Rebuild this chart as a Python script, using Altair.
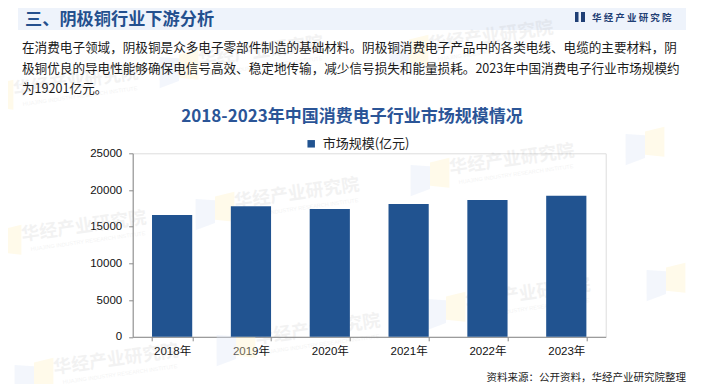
import altair as alt
import pandas as pd

# ---------------- data ----------------
years = ["2018年", "2019年", "2020年", "2021年", "2022年", "2023年"]
market = [16590, 17800, 17400, 18100, 18640, 19201]
series_name = "市场规模(亿元)"
y_ticks = [0, 5000, 10000, 15000, 20000, 25000]

header_title = "三、阴极铜行业下游分析"
logo_text = "华 经 产 业 研 究 院"
body_lines = [
    "在消费电子领域，阴极铜是众多电子零部件制造的基础材料。阴极铜消费电子产品中的各类电线、电缆的主要材料，阴",
    "极铜优良的导电性能够确保电信号高效、稳定地传输，减少信号损失和能量损耗。2023年中国消费电子行业市场规模约",
    "为19201亿元。",
]
chart_title = "2018-2023年中国消费电子行业市场规模情况"
source_text = "资料来源：公开资料，华经产业研究院整理"
wm_cn = "华经产业研究院"
wm_en = "HUAJING INDUSTRY RESEARCH INSTITUTE"

df = pd.DataFrame({"year": years, "value": market, "series": [series_name] * len(years)})
one = pd.DataFrame({"a": [0]})

# ---------------- layout / style ----------------
OX, OY = 132.7, 153.3      # page position of plot origin
W, H = 473, 183.5
SVG_W, SVG_H = 689, 376
BLUE = "#215390"
TITLE_BLUE = "#2B5597"
HEAD_BLUE = "#24508E"
GRAY = "#8a8a8a"
CJK = "Noto Sans CJK SC"
LAT = "Liberation Sans, Noto Sans CJK SC"


def px(x):
    return x - OX


def py(y):
    return y - OY


def label(text, x, y, size, color, weight="normal", align="left", font=CJK, angle=0, opacity=1.0):
    kw = dict(text=text, align=align, baseline="middle", fontSize=size,
              fontWeight=weight, color=color, font=font, opacity=opacity)
    if angle:
        kw["angle"] = angle
    return alt.Chart(one).mark_text(**kw).encode(x=alt.value(px(x)), y=alt.value(py(y)))


def box(x1, y1, x2, y2, color):
    return alt.Chart(one).mark_rect(color=color).encode(
        x=alt.value(px(x1)), x2=alt.value(px(x2)), y=alt.value(py(y1)), y2=alt.value(py(y2)))


layers = []

# header band
layers.append(box(18, 5, 686, 30, "#EEF3FB"))

# watermarks (faint decoration)
FLAG_L = "M-1,-0.62 L0,-0.55 L0,0.62 L-1,1 Z"
FLAG_R = "M0,-0.75 L1,-1 L1,0.55 L0,0.45 Z"
wm_text_centers = [(491, 37), (261, 52), (76, 82), (512, 160), (297, 194), (84, 227),
                   (318, 330), (528, 294), (116, 360)]
flag_only = [(645, 146), (666, 282)]
for cx, cy in wm_text_centers:
    flag_only.append((cx - 82, cy + 17))
for fx, fy in flag_only:
    layers.append(alt.Chart(one).mark_point(shape=FLAG_L, size=1500, filled=True, color="#DCE6F5",
                                            opacity=0.35, strokeWidth=0)
                  .encode(x=alt.value(px(fx)), y=alt.value(py(fy))))
    layers.append(alt.Chart(one).mark_point(shape=FLAG_R, size=1500, filled=True, color="#FFF1C2",
                                            opacity=0.35, strokeWidth=0)
                  .encode(x=alt.value(px(fx)), y=alt.value(py(fy))))
for cx, cy in wm_text_centers:
    layers.append(label(wm_cn, cx, cy, 18, "#9a9a9a", weight="bold", align="center",
                        angle=352, opacity=0.12))
    layers.append(label(wm_en, cx + 4, cy + 14, 5.5, "#9a9a9a", align="center",
                        font=LAT, angle=352, opacity=0.12))

# header texts
layers.append(label(header_title, 25, 19.5, 17.2, HEAD_BLUE, weight="bold"))
layers.append(box(575, 12, 578.5, 22, "#1F3F75"))
layers.append(box(581, 12, 585, 22, "#1F3F75"))
layers.append(label(logo_text, 592, 17.5, 9.5, "#1F3F75", weight="bold"))

# body paragraph
for i, line in enumerate(body_lines):
    layers.append(label(line, 22, 48 + i * 20.5, 12.6, "#1a1a1a"))

# chart title
layers.append(label(chart_title, 352, 117, 17, TITLE_BLUE, weight="bold", align="center"))

# source
layers.append(label(source_text, 686, 377.5, 10.5, "#222222", align="right"))

# bars
bars = alt.Chart(df).mark_bar().encode(
    x=alt.X("year:N", sort=years,
            scale=alt.Scale(paddingInner=0.49, paddingOuter=0.245),
            axis=alt.Axis(title=None, labelAngle=0, tickBand="extent", labelFontSize=11.5,
                          labelFont=LAT, labelColor="#111111", labelPadding=5, tickSize=4,
                          domainColor=GRAY, tickColor=GRAY, grid=False)),
    y=alt.Y("value:Q", scale=alt.Scale(domain=[0, 25000], nice=False),
            axis=alt.Axis(title=None, values=y_ticks, format="d", labelFontSize=11.5,
                          labelFont=LAT, labelColor="#111111", labelPadding=7, tickSize=4,
                          domainColor=GRAY, tickColor=GRAY, grid=False)),
    color=alt.Color("series:N", scale=alt.Scale(range=[BLUE]),
                    legend=alt.Legend(orient="none", legendX=172, legendY=-16, title=None,
                                      symbolType="square", symbolSize=56, symbolStrokeWidth=0,
                                      labelFontSize=13, labelFont=CJK, labelColor="#222222",
                                      labelOffset=5, padding=0)),
)
layers.append(bars)

pad_l, pad_t = OX - 8, OY - 8
chart = alt.layer(*layers).properties(
    width=W, height=H,
    autosize=alt.AutoSizeParams(type="none"),
    padding={"left": pad_l, "top": pad_t, "right": SVG_W - pad_l - W, "bottom": SVG_H - pad_t - H},
).configure_view(stroke=None).configure(background="white")

chart.save("out.html", embed_options={"renderer": "svg", "actions": False})
